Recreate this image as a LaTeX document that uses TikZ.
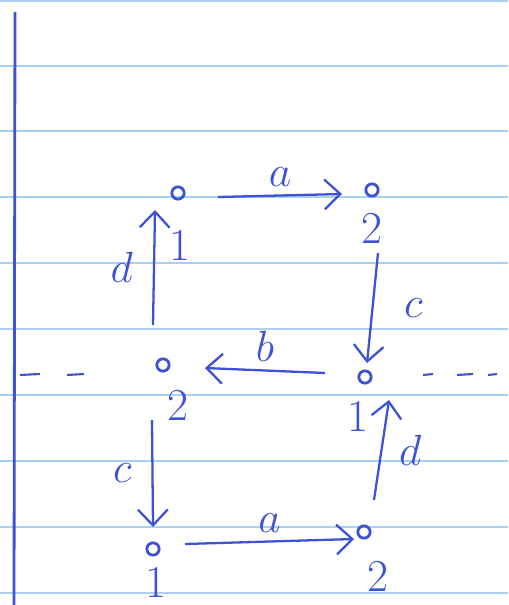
\documentclass[tikz,border=0pt]{standalone}
\usetikzlibrary{arrows.meta}
\definecolor{ink}{RGB}{62,82,215}
\definecolor{rule}{RGB}{170,208,243}
\tikzset{
  dot/.style={circle, draw=ink, line width=1.6pt, inner sep=0pt, minimum size=7pt},
  lbl/.style={text=ink, font=\fontsize{26}{30}\selectfont},
  arr/.style={ink, line width=1.3pt, -{Straight Barb[length=9pt,width=17pt]}},
}
\begin{document}
\begin{tikzpicture}[x=0.02cm,y=-0.02cm]
\useasboundingbox (0,0) rectangle (508,605);
% ruled paper
\foreach \yy in {1,66,131,197,263,329,395,461,527,593}
  \draw[rule, line width=0.7pt] (0,\yy) -- (508,\yy);
\draw[ink, line width=1.6pt] (15,12) -- (14,605);

% points
\node[dot] (t1) at (178,193) {};
\node[dot] (t2) at (372,190) {};
\node[dot] (m2) at (163,365) {};
\node[dot] (m1) at (365,377) {};
\node[dot] (b1) at (153,549) {};
\node[dot] (b2) at (364,532) {};

\node[lbl] (t1l) at (180,245) {1};
\node[lbl] (t2l) at (372,228) {2};
\node[lbl] (m2l) at (178,405) {2};
\node[lbl] (m1l) at (358,416) {1};
\node[lbl] (b1l) at (156,582) {1};
\node[lbl] (b2l) at (378,576) {2};

% arrows
\draw[arr] ([shift={(40,4)}]t1.center) -- ([shift={(-30,4)}]t2.center)
  node[lbl, midway, above=1pt] (a1) {$a$};
\draw[arr] ([shift={(6,63)}]t2.center) -- ([shift={(2,-14)}]m1.center)
  node[lbl, midway, right=14pt] (c1) {$c$};
\draw[arr] ([shift={(-40,-4)}]m1.center) -- ([shift={(42,3)}]m2.center)
  node[lbl, midway, above=1pt] (b0) {$b$};
\draw[arr] ([shift={(-10,-40)}]m2.center) -- ([shift={(-23,17)}]t1.center)
  node[lbl, midway, left=8pt] (d1) {$d$};
\draw[arr] ([shift={(-11,55)}]m2.center) -- ([shift={(0,-22)}]b1.center)
  node[lbl, midway, left=8pt] (c2) {$c$};
\draw[arr] ([shift={(10,-32)}]b2.center) -- ([shift={(24,23)}]m1.center)
  node[lbl, midway, right=6pt] (d2) {$d$};
\draw[arr] ([shift={(32,-5)}]b1.center) -- ([shift={(-10,7)}]b2.center)
  node[lbl, midway, above=1pt] (a2) {$a$};

% dashes
\foreach \xa/\xb in {20/40, 67/84, 423/433, 457/473, 488/497}
  \draw[ink, line width=1.2pt] (\xa,375) -- (\xb,374);
\end{tikzpicture}
\end{document}
